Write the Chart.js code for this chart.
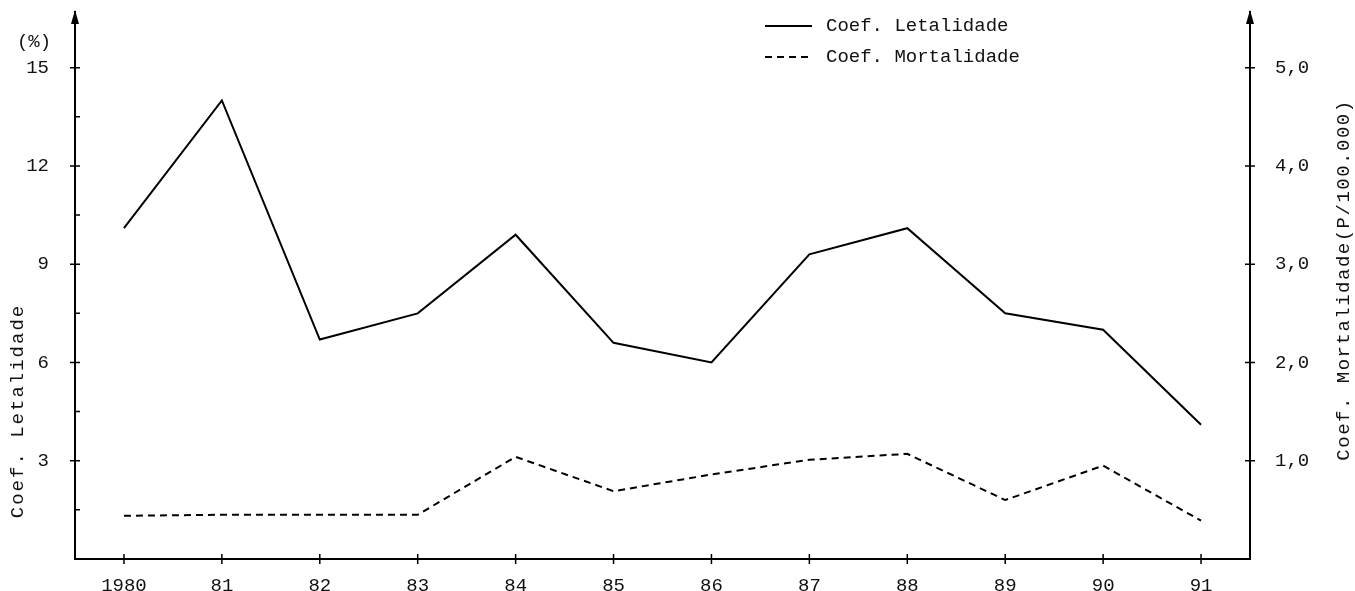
<!DOCTYPE html>
<html>
<head>
<meta charset="utf-8">
<script src="https://cdn.jsdelivr.net/npm/chart.js@4"></script>
<style>
html, body { margin: 0; padding: 0; background: #fff; }
</style>
</head>
<body>
<canvas id="grafico" width="1355" height="591"></canvas>
<script>
// anos (eixo x)
var anos = ['1980', '81', '82', '83', '84', '85', '86', '87', '88', '89', '90', '91'];
// coeficiente de letalidade (%)
var letalidade = [10.1, 14.0, 6.7, 7.5, 9.9, 6.6, 6.0, 9.3, 10.1, 7.5, 7.0, 4.1];
// coeficiente de mortalidade (p/100.000)
var mortalidade = [0.44, 0.45, 0.45, 0.45, 1.04, 0.69, 0.86, 1.01, 1.07, 0.60, 0.95, 0.39];

var ticksEsq = [1.5, 3, 4.5, 6, 7.5, 9, 10.5, 12, 13.5, 15];
var rotulosEsq = ['', '3', '', '6', '', '9', '', '12', '', '15'];
var ticksDir = [1, 2, 3, 4, 5];
var rotulosDir = ['1,0', '2,0', '3,0', '4,0', '5,0'];

var fonte = 'Liberation Mono';
var maxEsq = 16.7;

Chart.defaults.font.family = fonte;
Chart.defaults.color = '#111';

function semPadding(s) {
	s.paddingTop = 0;
	s.paddingBottom = 0;
	s.paddingLeft = 0;
	s.paddingRight = 0;
}

// eixos com marcas cruzadas, setas, titulos e legenda
var extras = {
	id: 'extras',
	afterDraw: function(chart) {
		var ctx = chart.ctx;
		var a = chart.chartArea;
		var sx = chart.scales.x, sy = chart.scales.y, sy1 = chart.scales.y1;
		ctx.save();
		ctx.strokeStyle = '#000';
		ctx.fillStyle = '#000';
		ctx.lineWidth = 1.5;

		ctx.beginPath();
		for (var i = 0; i < anos.length; i++) {
			var px = sx.getPixelForTick(i);
			ctx.moveTo(px, a.bottom - 5);
			ctx.lineTo(px, a.bottom + 5);
		}
		for (var j = 0; j < ticksEsq.length; j++) {
			var py = sy.getPixelForValue(ticksEsq[j]);
			ctx.moveTo(rotulosEsq[j] ? a.left - 5 : a.left, py);
			ctx.lineTo(a.left + 5, py);
		}
		for (var k = 0; k < ticksDir.length; k++) {
			var py2 = sy1.getPixelForValue(ticksDir[k]);
			ctx.moveTo(a.right - 5, py2);
			ctx.lineTo(a.right + 5, py2);
		}
		ctx.stroke();

		// setas
		[a.left, a.right].forEach(function(x) {
			ctx.beginPath();
			ctx.moveTo(x, a.top - 2);
			ctx.lineTo(x - 4, a.top + 12);
			ctx.lineTo(x + 4, a.top + 12);
			ctx.closePath();
			ctx.fill();
		});

		ctx.font = '19px "' + fonte + '"';
		ctx.fillStyle = '#111';
		ctx.textBaseline = 'middle';
		ctx.textAlign = 'center';
		ctx.fillText('(%)', 34, 42);

		// titulos dos eixos
		ctx.letterSpacing = '2px';
		ctx.save();
		ctx.translate(18, 411);
		ctx.rotate(-Math.PI / 2);
		ctx.fillText('Coef. Letalidade', 0, 0);
		ctx.restore();
		ctx.letterSpacing = '1.5px';
		ctx.save();
		ctx.translate(1344, 280);
		ctx.rotate(-Math.PI / 2);
		ctx.fillText('Coef. Mortalidade(P/100.000)', 0, 0);
		ctx.restore();
		ctx.letterSpacing = '0px';

		// legenda
		ctx.textAlign = 'left';
		var ds = chart.data.datasets;
		for (var n = 0; n < ds.length; n++) {
			var ly = 26 + n * 31;
			ctx.beginPath();
			ctx.lineWidth = 2;
			ctx.setLineDash(ds[n].borderDash || []);
			ctx.moveTo(765, ly);
			ctx.lineTo(812, ly);
			ctx.stroke();
			ctx.setLineDash([]);
			ctx.fillText(ds[n].label, 826, ly);
		}
		ctx.restore();
	}
};

var ctx = document.getElementById('grafico');

var grafico = new Chart(ctx, {
	type: 'line',
	data: {
		labels: anos,
		datasets: [
			{
				label: 'Coef. Letalidade',
				data: letalidade,
				borderColor: '#000',
				borderWidth: 2,
				pointRadius: 0,
				tension: 0,
				yAxisID: 'y'
			},
			{
				label: 'Coef. Mortalidade',
				data: mortalidade,
				borderColor: '#000',
				borderWidth: 2,
				borderDash: [7, 5],
				pointRadius: 0,
				tension: 0,
				yAxisID: 'y1'
			}
		]
	},
	options: {
		responsive: false,
		animation: false,
		layout: { padding: { top: 12, left: 0, right: 0, bottom: 0 } },
		plugins: {
			legend: { display: false },
			tooltip: { enabled: false }
		},
		scales: {
			x: {
				type: 'category',
				offset: true,
				grid: { display: false },
				border: { color: '#000', width: 2 },
				ticks: { font: { size: 19 }, padding: 8, maxRotation: 0, autoSkip: false },
				afterFit: function(s) { s.height = 32; semPadding(s); }
			},
			y: {
				position: 'left',
				min: 0,
				max: maxEsq,
				grid: { display: false },
				border: { color: '#000', width: 2 },
				afterBuildTicks: function(s) {
					s.ticks = ticksEsq.map(function(v) { return { value: v }; });
				},
				ticks: {
					font: { size: 19 },
					padding: 18,
					callback: function(v, i) { return rotulosEsq[i]; }
				},
				afterFit: function(s) { s.width = 75; semPadding(s); }
			},
			y1: {
				position: 'right',
				min: 0,
				max: maxEsq / 3,
				grid: { display: false },
				border: { color: '#000', width: 2 },
				afterBuildTicks: function(s) {
					s.ticks = ticksDir.map(function(v) { return { value: v }; });
				},
				ticks: {
					font: { size: 19 },
					padding: 17,
					callback: function(v, i) { return rotulosDir[i]; }
				},
				afterFit: function(s) { s.width = 105; semPadding(s); }
			}
		}
	},
	plugins: [extras]
});
</script>
</body>
</html>
